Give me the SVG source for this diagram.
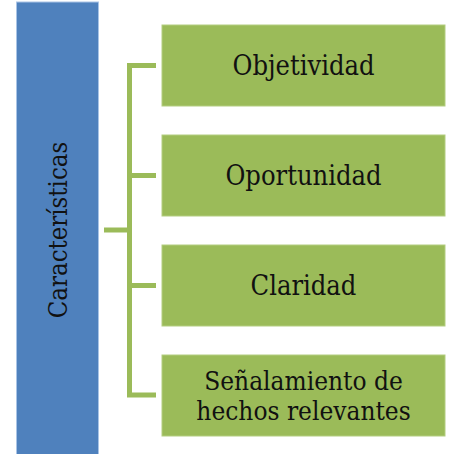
<svg xmlns="http://www.w3.org/2000/svg" width="451" height="454" viewBox="0 0 451 454">
  <style>
    .box { fill: #9BBB59; stroke: #B3CD80; stroke-width: 1; }
    .lbl { font-family: 'DejaVu Serif Condensed', 'DejaVu Serif', serif; font-stretch: condensed; font-size: 27px; fill: #111; text-anchor: middle; }
    .sm { font-size: 26px; }
    .conn { stroke: #9BBB59; stroke-width: 5; fill: none; }
  </style>
  <rect width="451" height="454" fill="#ffffff"/>
  <g id="caracteristicas">
    <rect x="16.5" y="2" width="82" height="454" fill="#4F81BD" stroke="#A9C4E6" stroke-width="1"/>
    <text class="lbl" transform="translate(66.5,230) rotate(-90)" style="font-size:25.5px">Características</text>
  </g>
  <g id="connectors">
    <path class="conn" d="M104,230 H129.5"/>
    <path class="conn" d="M156,65.5 H129.5 V395 H156"/>
    <path class="conn" d="M129.5,175.5 H156"/>
    <path class="conn" d="M129.5,285.5 H156"/>
  </g>
  <g id="objetividad">
    <rect class="box" x="162" y="25" width="283" height="81"/>
    <text class="lbl" x="303.5" y="74.5">Objetividad</text>
  </g>
  <g id="oportunidad">
    <rect class="box" x="162" y="135" width="283" height="81"/>
    <text class="lbl" x="303.5" y="184.5">Oportunidad</text>
  </g>
  <g id="claridad">
    <rect class="box" x="162" y="245" width="283" height="81"/>
    <text class="lbl" x="303.5" y="295">Claridad</text>
  </g>
  <g id="senalamiento">
    <rect class="box" x="162" y="355" width="283" height="81"/>
    <text class="lbl sm" x="303.5" y="390">Señalamiento de</text>
    <text class="lbl sm" x="303.5" y="420">hechos relevantes</text>
  </g>
</svg>
